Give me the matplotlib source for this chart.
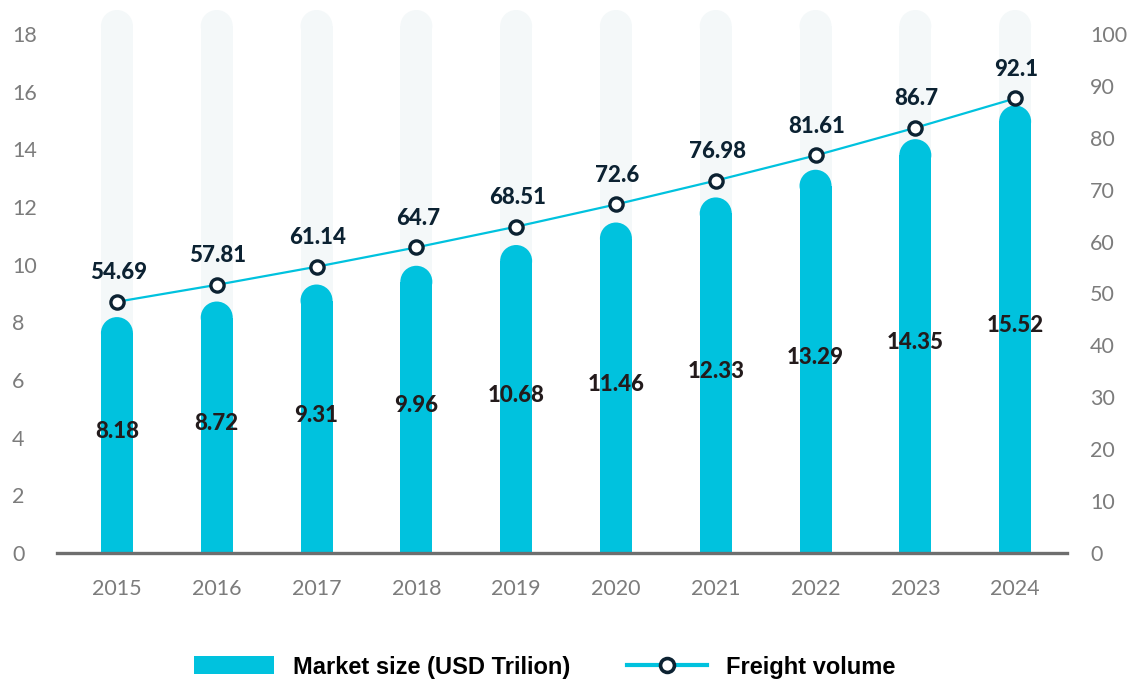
import matplotlib
matplotlib.use("Agg")
import matplotlib.pyplot as plt
from matplotlib.patches import Ellipse, Patch
from matplotlib.lines import Line2D

years = ["2015", "2016", "2017", "2018", "2019", "2020", "2021", "2022", "2023", "2024"]
market_size = [8.18, 8.72, 9.31, 9.96, 10.68, 11.46, 12.33, 13.29, 14.35, 15.52]
freight_volume = [54.69, 57.81, 61.14, 64.7, 68.51, 72.6, 76.98, 81.61, 86.7, 92.1]
left_ticks = [0, 2, 4, 6, 8, 10, 12, 14, 16, 18]
right_ticks = [0, 10, 20, 30, 40, 50, 60, 70, 80, 90, 100]

CYAN = "#00c2de"
BG_BAR = "#f4f8f9"
NAVY = "#0c2232"
DARK = "#231b1c"
TICK_GREY = "#7c7c7c"

DPI = 100
fig = plt.figure(figsize=(11.32, 6.8), dpi=DPI)
ax = fig.add_axes([0.0504, 0.1868, 0.8922, 0.7985])

x = list(range(len(years)))
ymax = 18.83
ax.set_xlim(-0.6, 9.52)
ax.set_ylim(0, ymax)

# pixel scale of the data axes, used for the rounded bar caps
bbox = ax.get_position()
px_per_x = bbox.width * fig.get_figwidth() * DPI / (9.52 + 0.6)
px_per_y = bbox.height * fig.get_figheight() * DPI / ymax
bar_w = 32 / px_per_x
cap_r = (32 / 2) / px_per_y


def round_bar(xc, top, color, z):
    ax.bar(xc, top - cap_r, width=bar_w, color=color, linewidth=0, zorder=z)
    ax.add_patch(Ellipse((xc, top - cap_r), bar_w, 2 * cap_r, color=color,
                         linewidth=0, zorder=z))


for xi, v in zip(x, market_size):
    round_bar(xi, ymax, BG_BAR, 1)
    round_bar(xi, v, CYAN, 2)
    ax.text(xi, v / 2 + 0.12, f"{v:g}", ha="center", va="center", fontsize=16,
            fontweight="black", family="Lato", color=DARK, zorder=5)

ax.set_xticks(x)
ax.set_xticklabels(years)
ax.set_yticks(left_ticks)
ax.tick_params(axis="x", length=0, pad=19, labelsize=15.5, labelcolor=TICK_GREY)
ax.tick_params(axis="y", length=0, pad=32.4, labelsize=15.5, labelcolor=TICK_GREY)
for lab in ax.get_yticklabels():
    lab.set_horizontalalignment("left")
for lab in ax.get_xticklabels() + ax.get_yticklabels():
    lab.set_family("Lato")
for side in ["left", "right", "top"]:
    ax.spines[side].set_visible(False)
ax.spines["bottom"].set_color("#6e6e6e")
ax.spines["bottom"].set_linewidth(2.4)
ax.spines["bottom"].set_zorder(6)

# right axis scale
ax2 = ax.twinx()
ax2.set_ylim(0, ymax * 100 / 18)
ax2.set_yticks(right_ticks)
ax2.tick_params(axis="y", length=0, pad=16.5, labelsize=15.5, labelcolor=TICK_GREY)
for lab in ax2.get_yticklabels():
    lab.set_family("Lato")
for s in ax2.spines.values():
    s.set_visible(False)

# freight volume line (its own hidden scale, as in the source design)
ax3 = ax.twinx()
ax3.set_ylim(8.48, 108.37)
ax3.set_yticks([])
for s in ax3.spines.values():
    s.set_visible(False)
ax3.plot(x, freight_volume, color=CYAN, linewidth=1.6, marker="o", markersize=9.5,
         markerfacecolor="white", markeredgecolor=NAVY, markeredgewidth=2.4, zorder=4)
for xi, v in zip(x, freight_volume):
    ax3.annotate(f"{v:g}", (xi, v), xytext=(1, 21), textcoords="offset points",
                 ha="center", va="center", fontsize=16, fontweight="black",
                 family="Lato", color=NAVY)

handles = [
    Patch(facecolor=CYAN, edgecolor="none", label="Market size (USD Trilion)"),
    Line2D([0], [0], color=CYAN, linewidth=3, marker="o", markersize=10,
           markerfacecolor="white", markeredgecolor=NAVY, markeredgewidth=2.6,
           label="Freight volume"),
]
leg = fig.legend(handles=handles, loc="center", bbox_to_anchor=(0.481, 0.019),
                 ncol=2, frameon=False, handlelength=3.4, handleheight=0.8,
                 handletextpad=0.8, columnspacing=2.4,
                 prop={"family": "Liberation Sans", "weight": "bold", "size": 17})

fig.savefig("out.png", dpi=DPI)
